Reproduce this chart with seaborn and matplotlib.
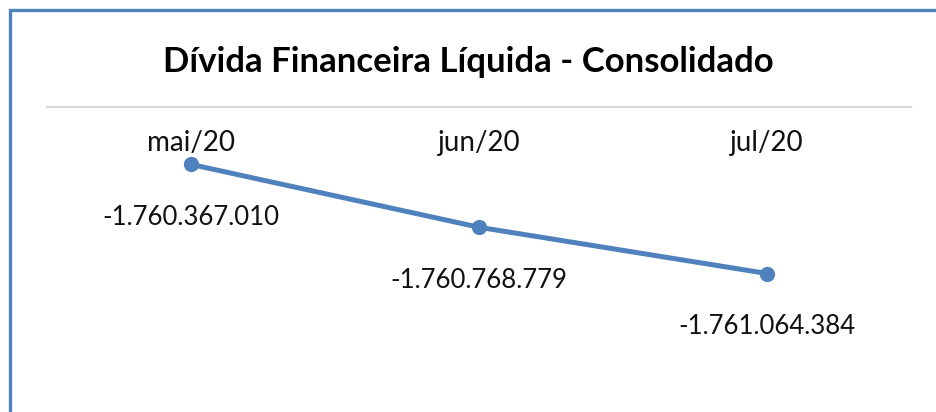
import pandas as pd
import seaborn as sns
import matplotlib.pyplot as plt
from matplotlib.patches import Rectangle

sns.set_style("white")
plt.rcParams["font.family"] = ["Lato", "DejaVu Sans"]

# ---------- Data ------------------------------------------------- #
months = ["mai/20", "jun/20", "jul/20"]
divida = [-1760367010, -1760768779, -1761064384]
title = "Dívida Financeira Líquida - Consolidado"

df = pd.DataFrame({"mes": range(len(months)), "valor": divida})

def fmt_br(v):
    return f"{v:,.0f}".replace(",", ".")

blue = "#4F81BD"

# ---------- Figure ----------------------------------------------- #
fig = plt.figure(figsize=(9.37, 4.12), dpi=100)
ax = fig.add_axes([47/937, 1 - 326/412, 864/937, 219/412])

sns.lineplot(data=df, x="mes", y="valor", color=blue, lw=3.6,
             marker="o", markersize=11, markeredgewidth=0, ax=ax)

ax.set_xlim(-0.5, len(months) - 0.5)
ax.set_ylim(-1761400000, -1760000000)
ax.set_xticks([]); ax.set_yticks([])
ax.set_xlabel(""); ax.set_ylabel("")
for side in ["left", "right", "bottom"]:
    ax.spines[side].set_visible(False)
ax.spines["top"].set_color("#D9D9D9")
ax.spines["top"].set_linewidth(1.6)

# category labels just under the top axis
for i, m in enumerate(months):
    ax.annotate(m, xy=(i, 1), xycoords=("data", "axes fraction"),
                xytext=(0, -26), textcoords="offset points",
                ha="center", va="center", fontsize=20, color="#111111")

# value labels below each point
for i, v in enumerate(divida):
    ax.annotate(fmt_br(v), xy=(i, v), xytext=(0, -38),
                textcoords="offset points", ha="center", va="center",
                fontsize=18.5, color="#111111")

fig.text(0.5, 1 - 62/412, title, ha="center", va="center",
         fontsize=25, fontweight="bold", color="#000000")

# blue frame (only top and left visible)
fig.add_artist(Rectangle((10/937, -0.5), 2, 0.5 + (1 - 10/412),
                         transform=fig.transFigure, fill=False,
                         edgecolor=blue, lw=2.4, clip_on=False))

fig.savefig("out.png", dpi=100)
